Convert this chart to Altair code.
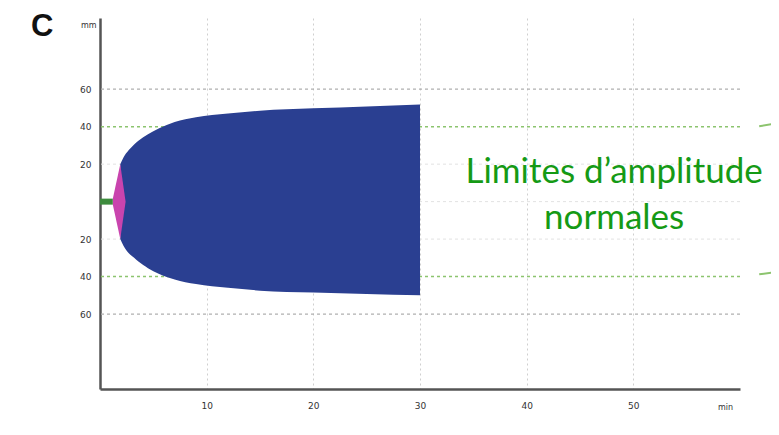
import altair as alt
import pandas as pd

# ---- data ----
# green stub (R time)
stub_t = [0.0, 1.2]
stub_amp = [1.6, 1.6]
# pink kite (K time)
k_t = [1.2, 1.9, 2.4]
k_amp = [1.6, 20.0, 0.0]
# blue envelope
env_t = [1.9, 2.2, 2.7, 3.2, 3.6, 4.5, 5.5, 7.0, 9.0, 12.0, 15.0, 20.0, 25.0, 30.0]
env_upper = [20.0, 23.5, 27.5, 30.5, 32.5, 36.0, 39.0, 42.5, 45.0, 47.0, 48.5, 49.8, 50.8, 51.8]
env_lower = [20.0, 23.5, 27.5, 30.0, 32.0, 35.5, 38.5, 41.5, 44.0, 46.0, 47.5, 48.5, 49.3, 50.0]

grid_gray = [60, -60]
grid_green = [40, -40]
grid_faint = [20, 0, -20]

x_ticks = [10, 20, 30, 40, 50]
y_ticks = [-60, -40, -20, 20, 40, 60]

ann_text = ["Limites d\u2019amplitude", "normales"]
ann_t = [48.2, 48.2]
ann_mm = [10.2, -14.5]

lead_t = [61.8, 61.8]
lead_t2 = [63.4, 63.4]
lead_y = [40.2, -38.8]
lead_y2 = [41.8, -37.6]

XD = [0, 60]
YD = [-100, 98]
xs = alt.Scale(domain=XD, zero=False, nice=False)
ys = alt.Scale(domain=YD, zero=False, nice=False)

env_df = pd.DataFrame({"t": env_t, "up": env_upper, "lo": [-v for v in env_lower]})
k_df = pd.DataFrame({"t": k_t, "up": k_amp, "lo": [-v for v in k_amp]})
stub_df = pd.DataFrame({"t": stub_t, "up": stub_amp, "lo": [-v for v in stub_amp]})

x_axis = alt.Axis(values=x_ticks, grid=True, gridDash=[2, 3], gridColor="#cfcfcf", gridWidth=1,
                  ticks=False, labelPadding=12, labelFontSize=9, labelFont="DejaVu Sans",
                  labelColor="#333", domainColor="#555", domainWidth=2.5,
                  title="min", titleFontSize=8, titleFont="DejaVu Sans", titleFontWeight="normal",
                  titleColor="#333", titleX=625, titleY=18, titleBaseline="middle")
y_axis = alt.Axis(values=y_ticks, grid=False, ticks=False, labelPadding=9, labelFontSize=9,
                  labelFont="DejaVu Sans", labelColor="#333", labelExpr="abs(datum.value)",
                  domainColor="#555", domainWidth=2.5,
                  title="mm", titleAngle=0, titleAlign="right", titleBaseline="middle",
                  titleX=-4, titleY=7, titleFontSize=8, titleFont="DejaVu Sans",
                  titleFontWeight="normal", titleColor="#333")


def X(f):
    return alt.X(f, type="quantitative", scale=xs, axis=x_axis)


def Y(f):
    return alt.Y(f, type="quantitative", scale=ys, axis=y_axis)


blue = alt.Chart(env_df).mark_area(color="#2A3F91", interpolate="monotone", opacity=1).encode(
    x=X("t"), y=Y("up"), y2="lo:Q",
)
pink = alt.Chart(k_df).mark_area(color="#C944AE", opacity=1).encode(
    x=X("t"), y=Y("up"), y2="lo:Q",
)
stub = alt.Chart(stub_df).mark_area(color="#3D8B3D", opacity=1).encode(
    x=X("t"), y=Y("up"), y2="lo:Q",
)


def hlines(vals, color, dash, width=1.2):
    return alt.Chart(pd.DataFrame({"up": vals})).mark_rule(
        color=color, strokeDash=dash, strokeWidth=width).encode(y=Y("up"))


g_faint = hlines(grid_faint, "#e2e2e2", [3, 3], 1)
g_gray = hlines(grid_gray, "#b0b0b0", [3, 3], 1.3)
g_green = hlines(grid_green, "#8cc46e", [3, 3], 1.5)

ann = alt.Chart(pd.DataFrame({"t": ann_t, "up": ann_mm, "s": ann_text})).mark_text(
    font="Lato", fontSize=35, color="#159A15", align="center", baseline="alphabetic"
).encode(x=X("t"), y=Y("up"), text="s:N")

lead = alt.Chart(pd.DataFrame({"t": lead_t, "t2": lead_t2, "up": lead_y, "y2": lead_y2})).mark_rule(
    color="#8cc46e", strokeWidth=2
).encode(x=X("t"), x2="t2:Q", y=Y("up"), y2="y2:Q")

label_c = alt.Chart(pd.DataFrame({"s": ["C"]})).mark_text(
    font="Liberation Sans", fontSize=31, fontWeight="bold", color="#111",
    align="left", baseline="alphabetic"
).encode(text="s:N", x=alt.value(-69), y=alt.value(18))

chart = alt.layer(g_faint, g_gray, g_green, blue, pink, stub, ann, lead, label_c).properties(
    width=640,
    height=371,
    background="white",
    autosize=alt.AutoSizeParams(type="none"),
    padding={"left": 92, "top": 10, "right": 31, "bottom": 38},
).configure_view(strokeWidth=0, stroke="transparent")

chart.save("out.html", embed_options={"renderer": "svg", "actions": False})
